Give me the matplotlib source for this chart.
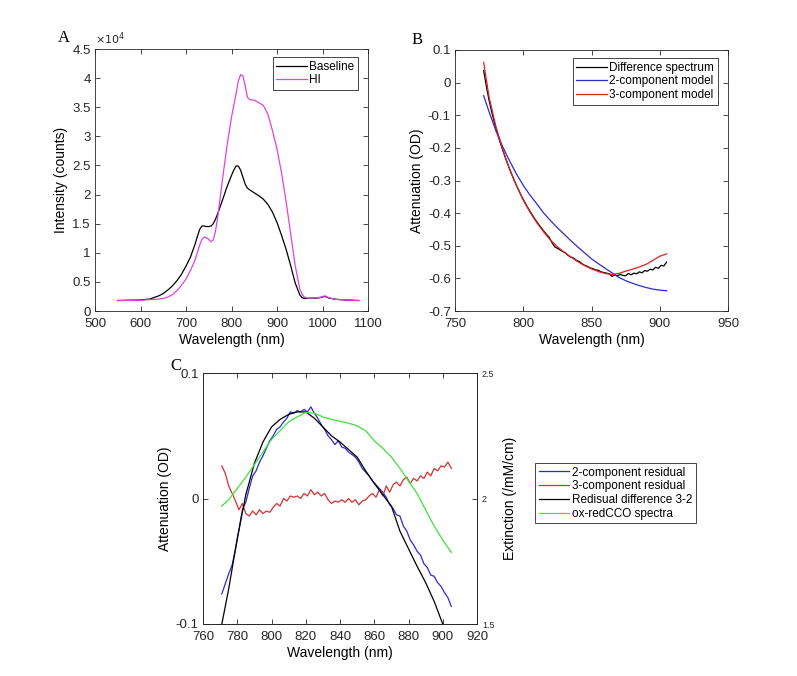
import numpy as np
import matplotlib
matplotlib.use("Agg")
import matplotlib.pyplot as plt
from matplotlib.ticker import FuncFormatter

plt.rcParams['font.family'] = ['Liberation Sans', 'DejaVu Sans']
plt.rcParams['axes.unicode_minus'] = False

# ---- panel A: source spectra ----
wl_a = [550, 600, 620, 640, 650, 660, 670, 680, 690, 700, 710, 720, 725, 730, 735,
        740, 745, 750, 755, 760, 765, 770, 780, 790, 800, 805, 810, 815, 820, 825,
        830, 835, 840, 850, 860, 870, 880, 890, 900, 910, 920, 930, 940, 950, 955,
        960, 965, 970, 985, 995, 1005, 1015, 1030, 1050, 1080]
baseline = [1800, 1900, 2050, 2600, 3000, 3600, 4300, 5200, 6300, 7700, 9300, 11500, 12800, 14000, 14600,
            14600, 14500, 14500, 14600, 15000, 15800, 16800, 19000, 21300, 23300, 24200, 24900, 24900, 24200, 23000,
            21800, 21100, 20800, 20300, 19800, 19200, 18300, 17000, 15200, 13000, 10600, 7800, 4800, 2800, 2300,
            2150, 2150, 2200, 2200, 2300, 2500, 2200, 2000, 1900, 1800]
hi = [1800, 1850, 1950, 2050, 2150, 2400, 2800, 3500, 4400, 5500, 7000, 8800, 10000, 11300, 12300,
      12700, 12600, 12300, 11900, 12200, 13800, 16300, 22500, 28300, 33300, 35300, 37300, 39500, 40600, 40400,
      38700, 36700, 36300, 36200, 35800, 35300, 33800, 31000, 27800, 23700, 18800, 13300, 7800, 3800, 2900,
      2400, 2250, 2200, 2250, 2350, 2600, 2250, 2000, 1900, 1800]

# ---- panel B: attenuation change and model fits ----
wl_b = [771] + list(range(775, 906, 5))
wl_b_diff = list(range(771, 906, 2))
diff_spec = [0.037, -0.012, -0.055, -0.092, -0.125, -0.155, -0.182, -0.207, -0.232, -0.254,
             -0.276, -0.296, -0.315, -0.333, -0.350, -0.366, -0.381, -0.395, -0.408, -0.421,
             -0.433, -0.444, -0.455, -0.465, -0.474, -0.490, -0.503, -0.508, -0.513, -0.518,
             -0.522, -0.530, -0.535, -0.538, -0.545, -0.548, -0.555, -0.560, -0.563, -0.568,
             -0.570, -0.574, -0.575, -0.580, -0.582, -0.584, -0.586, -0.594, -0.590, -0.592,
             -0.588, -0.591, -0.592, -0.585, -0.589, -0.584, -0.586, -0.580, -0.583, -0.576,
             -0.578, -0.572, -0.574, -0.566, -0.569, -0.560, -0.562, -0.550]
model2 = [-0.040, -0.090, -0.148, -0.197, -0.240, -0.280, -0.315, -0.345, -0.372, -0.400,
          -0.423, -0.445, -0.465, -0.485, -0.504, -0.522, -0.540, -0.555, -0.569, -0.583,
          -0.597, -0.607, -0.615, -0.622, -0.628, -0.633, -0.636, -0.638]
model3 = [0.062, -0.045, -0.135, -0.205, -0.265, -0.315, -0.360, -0.397, -0.430, -0.458,
          -0.483, -0.503, -0.520, -0.535, -0.549, -0.561, -0.571, -0.579, -0.585, -0.588,
          -0.585, -0.578, -0.572, -0.565, -0.557, -0.545, -0.532, -0.525]

# ---- panel C: residuals and CCO spectrum ----
wl_c = list(range(771, 906, 2))
resid2 = [-0.076, -0.068, -0.060, -0.053, -0.040, -0.025, -0.009, -0.003, 0.008, 0.018,
          0.022, 0.029, 0.034, 0.040, 0.046, 0.050, 0.055, 0.057, 0.061, 0.064,
          0.069, 0.068, 0.070, 0.069, 0.071, 0.069, 0.073, 0.068, 0.064, 0.059,
          0.055, 0.050, 0.047, 0.043, 0.046, 0.041, 0.040, 0.037, 0.035, 0.033,
          0.029, 0.024, 0.021, 0.018, 0.014, 0.011, 0.008, 0.005, 0.001, -0.005,
          -0.008, -0.013, -0.014, -0.022, -0.026, -0.033, -0.037, -0.042, -0.045, -0.052,
          -0.055, -0.061, -0.062, -0.067, -0.070, -0.075, -0.079, -0.086]
resid3 = [0.026, 0.020, 0.010, 0.004, -0.002, -0.009, -0.004, -0.012, -0.014, -0.010,
          -0.013, -0.009, -0.012, -0.010, -0.011, -0.007, -0.004, -0.006, 0.000, -0.002,
          0.002, 0.001, 0.002, 0.000, 0.004, 0.002, 0.007, 0.003, 0.005, 0.002,
          0.004, -0.001, -0.004, -0.002, -0.003, -0.001, -0.003, 0.000, -0.003, -0.001,
          -0.005, -0.002, -0.001, 0.002, 0.004, 0.001, 0.007, 0.002, 0.010, 0.005,
          0.011, 0.013, 0.010, 0.015, 0.017, 0.012, 0.016, 0.014, 0.018, 0.016,
          0.021, 0.018, 0.024, 0.022, 0.026, 0.025, 0.029, 0.024]
wl_c_diff = [771] + list(range(775, 901, 5))
resid_diff = [-0.100, -0.072, -0.032, 0.003, 0.028, 0.045, 0.057, 0.063, 0.067, 0.069,
              0.069, 0.064, 0.057, 0.050, 0.045, 0.039, 0.033, 0.022, 0.012, 0.003,
              -0.006, -0.026, -0.040, -0.054, -0.067, -0.082, -0.100]
wl_cco = [771] + list(range(775, 906, 5))
cco = [1.970, 1.995, 2.040, 2.085, 2.135, 2.185, 2.235, 2.270, 2.305, 2.325,
       2.343, 2.340, 2.325, 2.315, 2.308, 2.300, 2.290, 2.270, 2.230, 2.200,
       2.165, 2.120, 2.070, 2.020, 1.955, 1.890, 1.835, 1.785]

W, H = 797, 676
fig = plt.figure(figsize=(W / 100, H / 100), dpi=100)
fig.patch.set_facecolor('white')

lw = 0.9
tick_fs = 9.5
lab_fs = 10
fmt = FuncFormatter(lambda v, p: '%g' % (round(v, 6) + 0))


def style(ax):
    ax.tick_params(direction='in', length=3.5, width=0.6, labelsize=tick_fs,
                   top=True, right=True, colors='#262626')
    ax.tick_params(axis='x', pad=5)
    ax.tick_params(axis='y', pad=3)
    for s in ax.spines.values():
        s.set_linewidth(0.6)
        s.set_color('#262626')


def legend(ax, **kw):
    lg = ax.legend(fontsize=8.5, frameon=True, fancybox=False, framealpha=1,
                   edgecolor='#262626', handlelength=2.6, handletextpad=0.2,
                   labelspacing=0.15, borderpad=0.3, borderaxespad=0, **kw)
    lg.get_frame().set_linewidth(0.6)
    return lg


def box(l, t, r, b):
    return [l / W, 1 - b / H, (r - l) / W, (b - t) / H]


# A
axA = fig.add_axes(box(95, 49, 368, 311))
axA.plot(wl_a, baseline, color='black', lw=lw, label='Baseline')
axA.plot(wl_a, hi, color='#DD44DD', lw=lw, label='HI')
axA.set_xlim(500, 1100)
axA.set_ylim(0, 45000)
axA.set_xticks(range(500, 1101, 100))
axA.set_yticks(range(0, 45001, 5000))
axA.yaxis.set_major_formatter(FuncFormatter(lambda v, p: '%g' % (v / 1e4)))
axA.text(0.0, 1.008, r'$\times10^4$', transform=axA.transAxes, fontsize=8,
         ha='left', va='bottom', color='#262626')
axA.set_xlabel('Wavelength (nm)', fontsize=lab_fs, labelpad=2)
axA.set_ylabel('Intensity (counts)', fontsize=lab_fs, labelpad=3)
style(axA)
legend(axA, loc='upper right', bbox_to_anchor=(0.963, 0.969))

# B
axB = fig.add_axes(box(455, 50, 728, 311))
axB.plot(wl_b_diff, diff_spec, color='black', lw=lw, label='Difference spectrum')
axB.plot(wl_b, model2, color='#2B2BCF', lw=lw, label='2-component model')
axB.plot(wl_b, model3, color='#E02020', lw=lw, label='3-component model')
axB.set_xlim(750, 950)
axB.set_ylim(-0.7, 0.1)
axB.set_xticks(range(750, 951, 50))
axB.set_yticks(np.arange(-0.7, 0.11, 0.1))
axB.yaxis.set_major_formatter(fmt)
axB.set_xlabel('Wavelength (nm)', fontsize=lab_fs, labelpad=2)
axB.set_ylabel('Attenuation (OD)', fontsize=lab_fs, labelpad=3)
style(axB)
legend(axB, loc='upper right', bbox_to_anchor=(0.963, 0.969))

# C
axC = fig.add_axes(box(203, 373, 477, 624))
axC2 = axC.twinx()
l1, = axC.plot(wl_c, resid2, color='#2B2BCF', lw=lw, label='2-component residual')
l2, = axC.plot(wl_c, resid3, color='#D83030', lw=lw, label='3-component residual')
l3, = axC.plot(wl_c_diff, resid_diff, color='black', lw=lw, label='Redisual difference 3-2')
l4, = axC2.plot(wl_cco, cco, color='#3EE03E', lw=lw, label='ox-redCCO spectra')
axC.set_xlim(760, 920)
axC.set_ylim(-0.1, 0.1)
axC2.set_ylim(1.5, 2.5)
axC.set_xticks(range(760, 921, 20))
axC.set_yticks([-0.1, 0, 0.1])
axC2.set_yticks([1.5, 2, 2.5])
axC.yaxis.set_major_formatter(fmt)
axC2.yaxis.set_major_formatter(fmt)
axC.set_xlabel('Wavelength (nm)', fontsize=lab_fs, labelpad=2)
axC.set_ylabel('Attenuation (OD)', fontsize=lab_fs, labelpad=3)
axC2.set_ylabel('Extinction (/mM/cm)', fontsize=lab_fs, labelpad=6)
style(axC)
axC.tick_params(right=False)
axC2.tick_params(direction='in', length=3.5, width=0.6, labelsize=6.5, colors='#262626')
for s in axC2.spines.values():
    s.set_linewidth(0.6)
    s.set_color('#262626')
lg = fig.legend(handles=[l1, l2, l3, l4], loc='upper left',
                bbox_to_anchor=(535 / W, 1 - 463 / H), fontsize=8.5, frameon=True,
                fancybox=False, framealpha=1, edgecolor='#262626', handlelength=2.6,
                handletextpad=0.2, labelspacing=0.15, borderpad=0.3, borderaxespad=0)
lg.get_frame().set_linewidth(0.6)

# panel letters
for x, y, s in [(58, 38, 'A'), (412, 40, 'B'), (170, 366, 'C')]:
    fig.text(x / W, 1 - y / H, s, family=['Liberation Serif', 'DejaVu Serif'],
             fontsize=12, ha='left', va='center')

fig.savefig('out.png', dpi=100)
